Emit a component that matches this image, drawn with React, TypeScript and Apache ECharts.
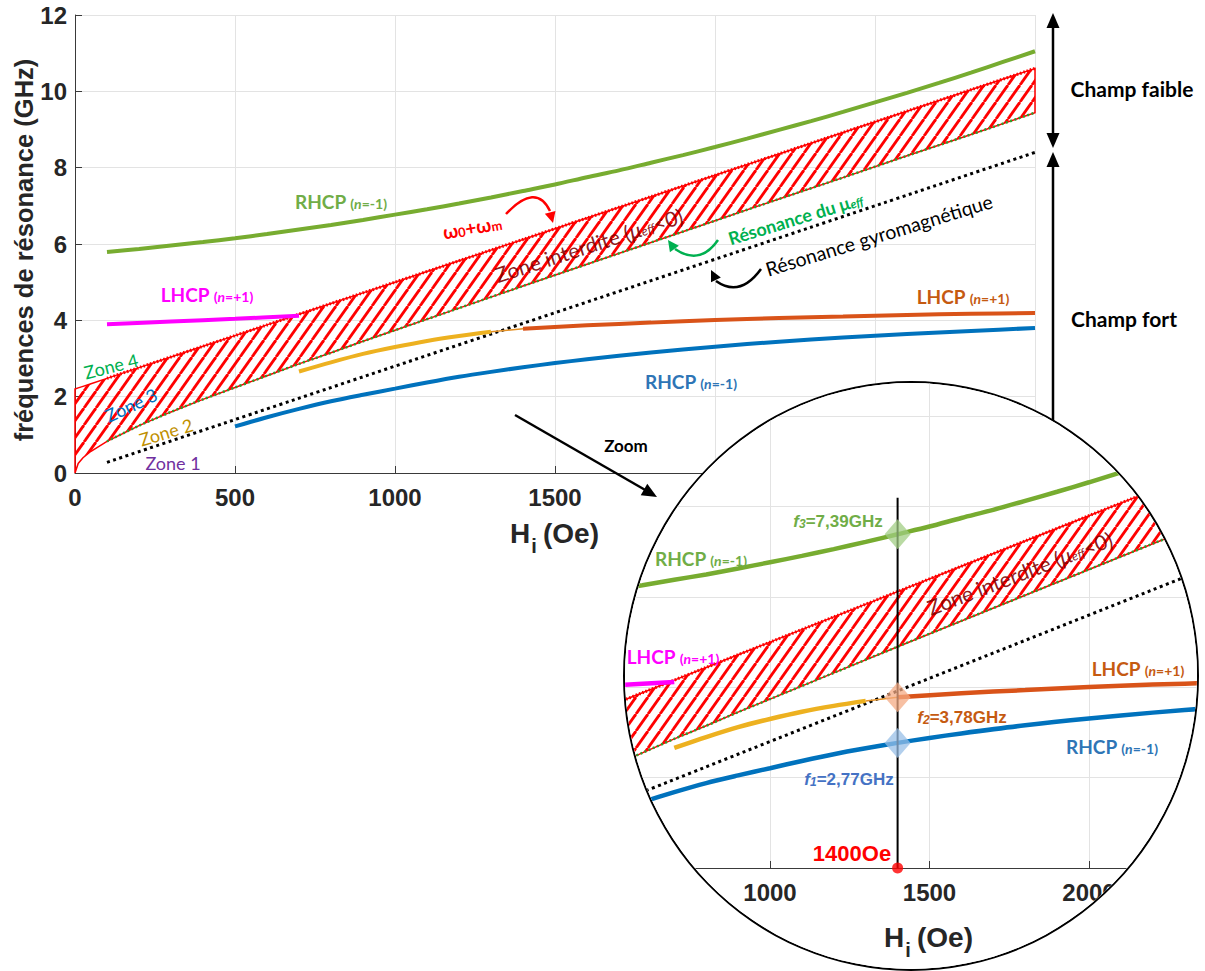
import React, { useEffect, useRef } from "react";
import * as echarts from "echarts";

// ---------------- DATA ----------------
// forbidden band (hatched): upper = w0+wm, lower = resonance of mu_eff
const H_BAND = [0, 10, 25, 50, 100, 200, 300, 400, 500, 600, 700, 800, 900, 1000, 1200, 1400, 1600, 1800, 2000, 2200, 2400, 2600, 2800, 3000];
const F_UPPER = [2.2, 2.23, 2.27, 2.34, 2.48, 2.76, 3.04, 3.32, 3.6, 3.88, 4.16, 4.44, 4.72, 5.0, 5.56, 6.12, 6.68, 7.24, 7.8, 8.36, 8.92, 9.48, 10.04, 10.6];
const F_LOWER = [0, 0.25, 0.4, 0.57, 0.83, 1.24, 1.6, 1.93, 2.24, 2.55, 2.86, 3.15, 3.45, 3.74, 4.32, 4.9, 5.47, 6.04, 6.61, 7.18, 7.74, 8.31, 8.87, 9.44];

// gyromagnetic resonance (dotted black)
const H_GYRO = [100, 3000];
const F_GYRO = [0.28, 8.4];

// RHCP (n=-1) upper branch (green)
const H_RHCP_HI = [100, 200, 300, 400, 500, 600, 700, 800, 900, 1000, 1100, 1200, 1300, 1400, 1500, 1600, 1700, 1800, 1900, 2000, 2100, 2200, 2300, 2400, 2500, 2600, 2700, 2800, 2900, 3000];
const F_RHCP_HI = [5.79, 5.87, 5.96, 6.05, 6.15, 6.26, 6.38, 6.5, 6.63, 6.77, 6.91, 7.06, 7.22, 7.39, 7.56, 7.75, 7.93, 8.13, 8.33, 8.54, 8.76, 8.99, 9.22, 9.46, 9.71, 9.96, 10.22, 10.49, 10.77, 11.05];

// RHCP (n=-1) lower branch (blue)
const H_RHCP_LO = [500, 600, 700, 800, 900, 1000, 1100, 1200, 1300, 1400, 1500, 1600, 1800, 2000, 2200, 2400, 2600, 2800, 3000];
const F_RHCP_LO = [1.22, 1.46, 1.68, 1.88, 2.05, 2.21, 2.37, 2.52, 2.65, 2.77, 2.88, 2.98, 3.16, 3.31, 3.44, 3.55, 3.64, 3.72, 3.8];

// LHCP (n=+1) low field (magenta)
const H_LHCP_LOW = [100, 300, 500, 700];
const F_LHCP_LOW = [3.9, 3.97, 4.04, 4.12];

// zone 2 branch (yellow)
const H_YELLOW = [700, 800, 900, 1000, 1100, 1200, 1300];
const F_YELLOW = [2.66, 2.9, 3.12, 3.3, 3.46, 3.59, 3.7];

// thin link
const H_LINK = [1300, 1400];
const F_LINK = [3.7, 3.78];

// LHCP (n=+1) high field (orange)
const H_LHCP_HIGH = [1400, 1600, 1800, 2000, 2200, 2400, 2600, 2800, 3000];
const F_LHCP_HIGH = [3.78, 3.87, 3.94, 4.01, 4.06, 4.1, 4.14, 4.17, 4.19];

// working point in zoom
const H_WORK = 1400;
const F_MARKS = [7.39, 3.78, 2.77];
const F_LINE_TOP = 8.2;

const X_TICKS = [0, 500, 1000, 1500, 2000, 2500, 3000];
const Y_TICKS = [0, 2, 4, 6, 8, 10, 12];

// ---------------- HELPERS ----------------
const pairs = (hs: number[], fs: number[]) => hs.map((h, i) => [h, fs[i]]);
const DEG = Math.PI / 180;

function makePattern() {
  const w = 12, h = 17;
  const c = document.createElement("canvas");
  c.width = w;
  c.height = h;
  const ctx = c.getContext("2d")!;
  ctx.strokeStyle = "#ff0000";
  ctx.lineWidth = 2.8;
  for (const k of [-1, 0, 1]) {
    ctx.beginPath();
    ctx.moveTo(k * w, h);
    ctx.lineTo(k * w + w, 0);
    ctx.stroke();
  }
  return { image: c, repeat: "repeat", imageWidth: w, imageHeight: h };
}

function T(x: number, y: number, text: string, o: any = {}) {
  return {
    type: "text",
    x,
    y,
    rotation: (o.rot || 0) * DEG,
    z: 100,
    silent: true,
    style: {
      text,
      fill: o.color || "#000",
      fontSize: o.size || 16,
      fontWeight: o.weight || "normal",
      fontFamily: o.family || "Lato",
      fontStyle: o.italic ? "italic" : "normal",
      opacity: o.opacity == null ? 1 : o.opacity,
      align: o.align || "center",
      verticalAlign: "middle",
      textAlign: o.align || "center",
      textVerticalAlign: "middle",
      rich: o.rich,
    },
  };
}

function curveLabel(x: number, y: number, name: string, nval: string, color: string) {
  const base = { fill: color, fontFamily: "Lato", fontWeight: "bold", verticalAlign: "bottom" };
  return T(x, y, `{a|${name}} {b|(}{c|n}{b|=${nval})}`, {
    color,
    rich: {
      a: { ...base, fontSize: 19, lineHeight: 21 },
      b: { ...base, fontSize: 14, lineHeight: 20 },
      c: { ...base, fontSize: 14, lineHeight: 20, fontStyle: "italic" },
    },
  });
}

function zoneInterdite(x: number, y: number, rot: number, size: number) {
  const c = "rgba(128,0,0,0.9)";
  const base = { fill: c, fontFamily: "Lato", verticalAlign: "bottom" };
  return T(x, y, "{a|Zone interdite (}{m|μ}{s|eff}{a|<0)}", {
    rot,
    color: c,
    rich: {
      a: { ...base, fontSize: size, lineHeight: size + 4 },
      m: { ...base, fontSize: size, lineHeight: size + 4, fontStyle: "italic" },
      s: { ...base, fontSize: size * 0.6, lineHeight: size + 2, fontStyle: "italic" },
    },
  });
}

function fLabel(x: number, y: number, idx: string, val: string, color: string) {
  const base = { fill: color, fontFamily: "Liberation Sans", fontWeight: "bold", verticalAlign: "bottom" };
  return T(x, y, `{i|f}{s|${idx}}{a|=${val}GHz}`, {
    color,
    rich: {
      i: { ...base, fontSize: 17, lineHeight: 20, fontStyle: "italic" },
      s: { ...base, fontSize: 12, lineHeight: 18, fontStyle: "italic" },
      a: { ...base, fontSize: 17, lineHeight: 20 },
    },
  });
}

function arrowHead(tx: number, ty: number, fx: number, fy: number, len: number, hw: number, color: string) {
  const dx = tx - fx, dy = ty - fy;
  const d = Math.hypot(dx, dy);
  const ux = dx / d, uy = dy / d;
  const bx = tx - ux * len, by = ty - uy * len;
  return {
    type: "polygon",
    z: 100,
    silent: true,
    shape: { points: [[tx, ty], [bx - uy * hw, by + ux * hw], [bx + uy * hw, by - ux * hw]] },
    style: { fill: color },
  };
}

function seg(x1: number, y1: number, x2: number, y2: number, color: string, w: number) {
  return { type: "line", z: 100, silent: true, shape: { x1, y1, x2, y2 }, style: { stroke: color, lineWidth: w } };
}

function curve(x1: number, y1: number, cx: number, cy: number, x2: number, y2: number, color: string, w: number) {
  return {
    type: "bezierCurve",
    z: 100,
    silent: true,
    shape: { x1, y1, x2, y2, cpx1: cx, cpy1: cy },
    style: { stroke: color, lineWidth: w, fill: "none" },
  };
}

function axisTitle(x: number, y: number) {
  const st = { color: "#262626", family: "Liberation Sans", weight: "bold" };
  return [
    T(x - 35, y, "H", { ...st, size: 28 }),
    T(x - 21, y + 13, "i", { ...st, size: 20 }),
    T(x + 16, y, "(Oe)", { ...st, size: 28 }),
  ];
}

function buildSeries(pattern: any, zoom: boolean) {
  const lw = zoom ? 4.5 : 4;
  const line = (data: number[][], color: string, width: number, type: any = "solid", z = 5) => ({
    type: "line",
    data,
    symbol: "none",
    smooth: 0.3,
    silent: true,
    z,
    lineStyle: { color, width, type, cap: "butt" },
  });
  const series: any[] = [
    {
      type: "custom",
      silent: true,
      z: 2,
      data: [[0, 0]],
      renderItem: (_p: any, api: any) => {
        const pts: number[][] = [];
        for (let i = 0; i < H_BAND.length; i++) pts.push(api.coord([H_BAND[i], F_UPPER[i]]));
        for (let i = H_BAND.length - 1; i >= 0; i--) pts.push(api.coord([H_BAND[i], F_LOWER[i]]));
        return {
          type: "polygon",
          shape: { points: pts },
          style: { fill: pattern, stroke: "#ff0000", lineWidth: 1.5 },
        };
      },
    },
    line(pairs(H_BAND.slice(4), F_LOWER.slice(4)), "#2ca02c", 2.5, [2, 2.5], 3),
    line(pairs(H_BAND.slice(4), F_UPPER.slice(4)), "#ff0000", 3.2, [1.5, 2], 3),
    line(pairs(H_GYRO, F_GYRO), "#000000", 3, [3, 3.5], 4),
    line(pairs(H_LHCP_LOW, F_LHCP_LOW), "#ff00ff", lw),
    line(pairs(H_YELLOW, F_YELLOW), "#EDB120", lw),
    line(pairs(H_LINK, F_LINK), "#E39025", 1.5),
    line(pairs(H_LHCP_HIGH, F_LHCP_HIGH), "#D95319", lw),
    line(pairs(H_RHCP_LO, F_RHCP_LO), "#0072BD", lw),
    line(pairs(H_RHCP_HI, F_RHCP_HI), "#77AC30", lw),
  ];
  if (zoom) {
    series.push({
      type: "line",
      data: [[H_WORK, 0], [H_WORK, F_LINE_TOP]],
      symbol: "none",
      silent: true,
      z: 6,
      lineStyle: { color: "#000", width: 2 },
    });
    const mc = ["rgba(160,205,130,0.92)", "rgba(244,170,130,0.92)", "rgba(150,190,230,0.92)"];
    series.push({
      type: "scatter",
      clip: false,
      silent: true,
      z: 7,
      symbol: "diamond",
      symbolSize: [26, 30],
      data: F_MARKS.map((f, i) => ({ value: [H_WORK, f], itemStyle: { color: mc[i] } })),
    });
    series.push({
      type: "scatter",
      clip: false,
      silent: true,
      z: 8,
      symbol: "circle",
      symbolSize: 11,
      itemStyle: { color: "#ff0000" },
      data: [[H_WORK, 0]],
    });
  }
  return series;
}

function axes(showYLabels: boolean) {
  const lab = {
    color: "#262626",
    fontSize: 24,
    fontWeight: "bold",
    fontFamily: "Liberation Sans",
    formatter: (v: number) => String(v),
  };
  const split = { show: true, lineStyle: { color: "#e3e3e3", width: 1 } };
  return {
    xAxis: {
      type: "value",
      min: X_TICKS[0],
      max: X_TICKS[X_TICKS.length - 1],
      interval: X_TICKS[1] - X_TICKS[0],
      axisLine: { show: true, onZero: false, lineStyle: { color: "#3a3a3a", width: 1 } },
      axisTick: { show: true, inside: true, length: 7, lineStyle: { color: "#3a3a3a" } },
      axisLabel: { ...lab, margin: 12 },
      splitLine: split,
    },
    yAxis: {
      type: "value",
      min: Y_TICKS[0],
      max: Y_TICKS[Y_TICKS.length - 1],
      interval: Y_TICKS[1] - Y_TICKS[0],
      axisLine: { show: true, onZero: false, lineStyle: { color: "#3a3a3a", width: 1 } },
      axisTick: { show: true, inside: true, length: 7, lineStyle: { color: "#3a3a3a" } },
      axisLabel: { ...lab, margin: 8, show: showYLabels },
      splitLine: split,
    },
  };
}

function mainOption(pattern: any) {
  const graphic: any[] = [
    // axis titles
    T(24, 250, "fréquences de résonance (GHz)", { rot: 90, size: 25.5, weight: "bold", family: "Liberation Sans", color: "#262626" }),
    ...axisTitle(555, 533),
    // curve labels
    curveLabel(341, 200, "RHCP", "-1", "#70AD47"),
    curveLabel(207, 293, "LHCP", "+1", "#ff00ff"),
    curveLabel(963, 295, "LHCP", "+1", "#C55A11"),
    curveLabel(691, 380, "RHCP", "-1", "#2E75B6"),
    // omega label + arrow
    T(472, 226, "{a|ω}{s|0}{a|+ω}{s|m}", {
      rot: 10,
      color: "#ff0000",
      rich: {
        a: { fill: "#ff0000", fontFamily: "Lato", fontWeight: "bold", fontSize: 19, lineHeight: 21, verticalAlign: "bottom" },
        s: { fill: "#ff0000", fontFamily: "Lato", fontWeight: "bold", fontSize: 13, lineHeight: 17, verticalAlign: "bottom" },
      },
    }),
    curve(506, 214, 536, 182, 550, 211, "#ff0000", 2.5),
    arrowHead(553, 223, 549, 208, 11, 5.5, "#ff0000"),
    zoneInterdite(588, 243, 18, 21),
    // resonance mu_eff
    T(795, 217, "{a|Résonance du μ}{s|eff}", {
      rot: 17,
      color: "#00B050",
      rich: {
        a: { fill: "#00B050", fontFamily: "Lato", fontWeight: "bold", fontSize: 18, lineHeight: 21, verticalAlign: "bottom" },
        s: { fill: "#00B050", fontFamily: "Lato", fontWeight: "bold", fontStyle: "italic", fontSize: 12, lineHeight: 16, verticalAlign: "bottom" },
      },
    }),
    curve(718, 240, 700, 266, 675, 249, "#00B050", 2.5),
    arrowHead(668, 240, 678, 254, 11, 5.5, "#00B050"),
    // gyromagnetic
    T(879, 235, "Résonance gyromagnétique", { rot: 17, size: 19.5, color: "#000" }),
    curve(761, 269, 740, 298, 716, 281, "#000", 2.5),
    arrowHead(711, 270, 718, 284, 11, 5.5, "#000"),
    // zones
    T(111, 366, "Zone 4", { rot: 14, size: 18, color: "#00B050" }),
    T(131, 405, "Zone 3", { rot: 25, size: 18, color: "#0070C0" }),
    T(166, 432, "Zone 2", { rot: 17, size: 18, color: "#BF9000" }),
    T(173, 463, "Zone 1", { rot: 0, size: 18, color: "#7030A0" }),
    // zoom arrow
    T(626, 445, "Zoom", { size: 17, weight: "bold", color: "#000" }),
    seg(515, 415, 647, 491, "#000", 2.5),
    arrowHead(657, 497, 515, 415, 15, 6.5, "#000"),
    // champ faible / fort
    seg(1053, 26, 1053, 136, "#000", 2.5),
    arrowHead(1053, 13, 1053, 60, 15, 6.5, "#000"),
    arrowHead(1053, 148, 1053, 100, 15, 6.5, "#000"),
    seg(1053, 164, 1053, 440, "#000", 2.5),
    arrowHead(1053, 152, 1053, 200, 15, 6.5, "#000"),
    T(1132, 88, "Champ faible", { size: 21, weight: "bold", color: "#000" }),
    T(1124, 318, "Champ fort", { size: 21, weight: "bold", color: "#000" }),
  ];
  return {
    animation: false,
    backgroundColor: "#ffffff",
    grid: { left: 75, top: 15, width: 960, height: 458, containLabel: false, show: false },
    ...axes(true),
    series: buildSeries(pattern, false),
    graphic,
  };
}

function zoomOption(pattern: any) {
  const graphic: any[] = [
    curveLabel(701, 557, "RHCP", "-1", "#70AD47"),
    curveLabel(673, 655, "LHCP", "+1", "#ff00ff"),
    curveLabel(1138, 667, "LHCP", "+1", "#C55A11"),
    curveLabel(1112, 745, "RHCP", "-1", "#2E75B6"),
    zoneInterdite(1019, 571, 21, 21),
    fLabel(838, 520, "3", "7,39", "#70AD47"),
    fLabel(962, 716, "2", "3,78", "#C55A11"),
    fLabel(849, 778, "1", "2,77", "#4472C4"),
    T(852, 853, "1400Oe", { size: 22, weight: "bold", family: "Liberation Sans", color: "#ff0000" }),
    ...axisTitle(929, 937),
  ];
  return {
    animation: false,
    backgroundColor: "#ffffff",
    grid: { left: 451, top: 326, width: 957, height: 542, containLabel: false, show: false },
    ...axes(false),
    series: buildSeries(pattern, true),
    graphic,
  };
}

export default function App() {
  const mainRef = useRef<HTMLDivElement>(null);
  const zoomRef = useRef<HTMLDivElement>(null);
  useEffect(() => {
    const pattern = makePattern();
    const main = echarts.init(mainRef.current!, null, { renderer: "svg" });
    main.setOption(mainOption(pattern) as any);
    const zoom = echarts.init(zoomRef.current!, null, { renderer: "svg" });
    zoom.setOption(zoomOption(pattern) as any);
    return () => {
      main.dispose();
      zoom.dispose();
    };
  }, []);
  return (
    <div style={{ position: "fixed", left: 0, top: 0, width: 1205, height: 971, overflow: "hidden", background: "#fff" }}>
      <div ref={mainRef} style={{ position: "absolute", left: 0, top: 0, width: 1205, height: 971 }} />
      <div
        style={{
          position: "absolute",
          left: 623,
          top: 381,
          width: 576,
          height: 590,
          borderRadius: "50%",
          border: "2px solid #000",
          boxSizing: "border-box",
          overflow: "hidden",
          background: "#fff",
        }}
      >
        <div ref={zoomRef} style={{ position: "absolute", left: -625, top: -383, width: 1600, height: 971 }} />
      </div>
    </div>
  );
}
